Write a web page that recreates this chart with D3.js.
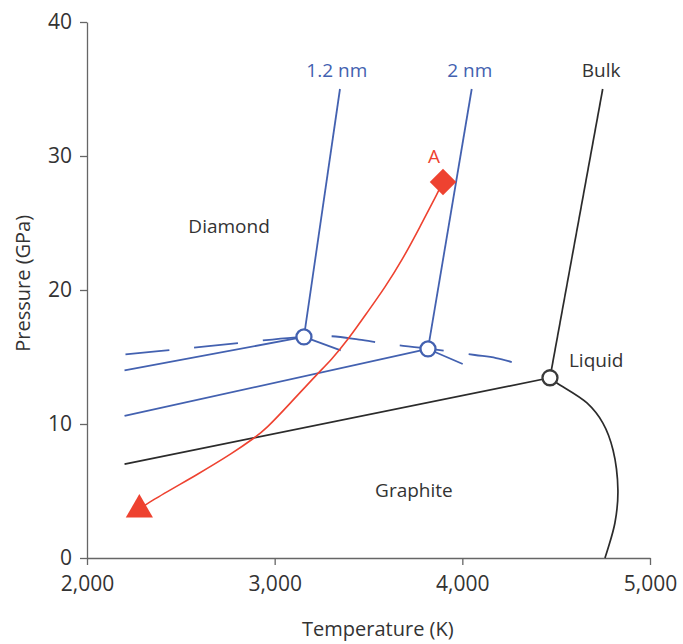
<!DOCTYPE html>
<html>
<head>
<meta charset="utf-8">
<style>
  body { margin: 0; background: #fff; }
  svg text { font-family: "Open Sans", sans-serif; fill: #333; }
  .axis path, .axis line { stroke: #666; stroke-width: 1.3px; }
  .axis text { font-size: 21px; fill: #333; }
</style>
</head>
<body>
<svg id="chart" width="683" height="644"></svg>
<script src="https://d3js.org/d3.v7.min.js"></script>
<script>
  // values, [temperature K, pressure GPa]
  const xTicks = [2000, 3000, 4000, 5000];
  const yTicks = [0, 10, 20, 30, 40];

  const bulkGraphiteDiamond = [[2200, 7.0], [4467, 13.45]];
  const bulkDiamondLiquid = [[4467, 13.45], [4748, 35]];
  const bulkGraphiteLiquid = [[4467, 13.45], [4504, 13.06], [4664, 11.57], [4749, 10.07],
    [4803, 8.06], [4829, 5.07], [4813, 2.61], [4760, 0]];

  const nm12Diamond = [[3156, 16.5], [3348, 35]];
  const nm12Graphite = [[2200, 14.0], [3156, 16.5]];
  const nm12Liquid = [[3156, 16.5], [3352, 15.5]];

  const nm2Diamond = [[3817, 15.6], [4050, 35]];
  const nm2Graphite = [[2200, 10.6], [3817, 15.6]];
  const nm2Liquid = [[3817, 15.6], [4002, 14.48]];

  const dashedCurve = [[2205, 15.2], [2500, 15.6], [2815, 16.05], [3100, 16.45], [3300, 16.55],
    [3450, 16.3], [3600, 15.98], [3817, 15.63], [4067, 15.15], [4180, 14.92], [4307, 14.45]];

  const pathA = [[3897, 28.06], [3870, 27.3], [3774, 24.7], [3678, 22.2], [3588, 20.2],
    [3492, 18.3], [3391, 16.3], [3300, 14.75], [3231, 13.8], [3080, 11.5], [2948, 9.55],
    [2895, 9.0], [2778, 7.84], [2602, 6.34], [2320, 4.1], [2279, 3.6]];

  const triplePoints = [
    { T: 3156, P: 16.5, kind: "nm" },
    { T: 3817, P: 15.6, kind: "nm" },
    { T: 4467, P: 13.45, kind: "bulk" }
  ];

  const labels = [
    { text: "1.2 nm", T: 3331, P: 35.9, kind: "nm" },
    { text: "2 nm", T: 4040, P: 35.9, kind: "nm" },
    { text: "Bulk", T: 4740, P: 35.9, kind: "bulk" },
    { text: "A", T: 3849, P: 29.45, kind: "red" },
    { text: "Diamond", T: 2757, P: 24.25, kind: "bulk" },
    { text: "Graphite", T: 3742, P: 4.55, kind: "bulk" },
    { text: "Liquid", T: 4713, P: 14.25, kind: "bulk" }
  ];

  const blue = "#4361b0";
  const red = "#ee4230";
  const dark = "#2b2b2b";

  const svg = d3.select("#chart");
  const margin = { top: 22, right: 33, bottom: 86, left: 87 };
  const width = 683 - margin.left - margin.right;
  const height = 644 - margin.top - margin.bottom;

  const x = d3.scaleLinear().domain([2000, 5000]).range([0, width]);
  const y = d3.scaleLinear().domain([0, 40]).range([height, 0]);

  const g = svg.append("g").attr("transform", `translate(${margin.left},${margin.top})`);

  g.append("g")
    .attr("class", "axis")
    .attr("transform", `translate(0,${height})`)
    .call(d3.axisBottom(x).tickValues(xTicks).tickSize(7).tickSizeOuter(0).tickPadding(11)
      .tickFormat(d3.format(",")));

  g.append("g")
    .attr("class", "axis")
    .call(d3.axisLeft(y).tickValues(yTicks).tickSize(7).tickSizeOuter(0).tickPadding(8));

  g.selectAll(".axis text").style("font-family", "'Open Sans', sans-serif");

  svg.append("text")
    .attr("x", margin.left + x(3550))
    .attr("y", 636)
    .attr("text-anchor", "middle")
    .style("font-size", "20px")
    .text("Temperature (K)");

  svg.append("text")
    .attr("transform", `translate(30,${margin.top + y(20.5)}) rotate(-90)`)
    .attr("text-anchor", "middle")
    .style("font-size", "20px")
    .text("Pressure (GPa)");

  const line = d3.line().x(d => x(d[0])).y(d => y(d[1]));
  const smooth = d3.line().x(d => x(d[0])).y(d => y(d[1])).curve(d3.curveCatmullRom.alpha(0.5));
  const soft = d3.line().x(d => x(d[0])).y(d => y(d[1])).curve(d3.curveBasis);

  // nanodiamond boundaries
  g.append("path").datum(dashedCurve)
    .attr("d", smooth)
    .attr("fill", "none")
    .attr("stroke", blue)
    .attr("stroke-width", 1.8)
    .attr("stroke-dasharray", "44,25");

  [nm12Diamond, nm12Graphite, nm12Liquid, nm2Diamond, nm2Graphite, nm2Liquid].forEach(seg => {
    g.append("path").datum(seg)
      .attr("d", line)
      .attr("fill", "none")
      .attr("stroke", blue)
      .attr("stroke-width", 1.8);
  });

  // bulk boundaries
  [bulkGraphiteDiamond, bulkDiamondLiquid].forEach(seg => {
    g.append("path").datum(seg)
      .attr("d", line)
      .attr("fill", "none")
      .attr("stroke", dark)
      .attr("stroke-width", 1.7);
  });

  g.append("path").datum(bulkGraphiteLiquid)
    .attr("d", smooth)
    .attr("fill", "none")
    .attr("stroke", dark)
    .attr("stroke-width", 1.7);

  // path A
  g.append("path").datum(pathA)
    .attr("d", soft)
    .attr("fill", "none")
    .attr("stroke", red)
    .attr("stroke-width", 1.6);

  const start = pathA[0];
  const end = pathA[pathA.length - 1];

  g.append("path")
    .attr("d", d3.symbol(d3.symbolSquare, 350)())
    .attr("transform", `translate(${x(start[0])},${y(start[1])}) rotate(45)`)
    .attr("fill", red);

  g.append("path")
    .attr("d", d3.symbol(d3.symbolTriangle, 320)())
    .attr("transform", `translate(${x(end[0])},${y(end[1])})`)
    .attr("fill", red);

  // triple points
  g.selectAll("circle.tp")
    .data(triplePoints)
    .join("circle")
    .attr("class", "tp")
    .attr("cx", d => x(d.T))
    .attr("cy", d => y(d.P))
    .attr("r", 7.5)
    .attr("fill", "#fff")
    .attr("stroke", d => d.kind === "nm" ? blue : "#3a3a3a")
    .attr("stroke-width", 2.3);

  g.selectAll("text.lbl")
    .data(labels)
    .join("text")
    .attr("class", "lbl")
    .attr("x", d => x(d.T))
    .attr("y", d => y(d.P))
    .attr("text-anchor", "middle")
    .style("font-size", "19px")
    .style("fill", d => d.kind === "nm" ? blue : d.kind === "red" ? red : "#333")
    .text(d => d.text);
</script>
</body>
</html>
